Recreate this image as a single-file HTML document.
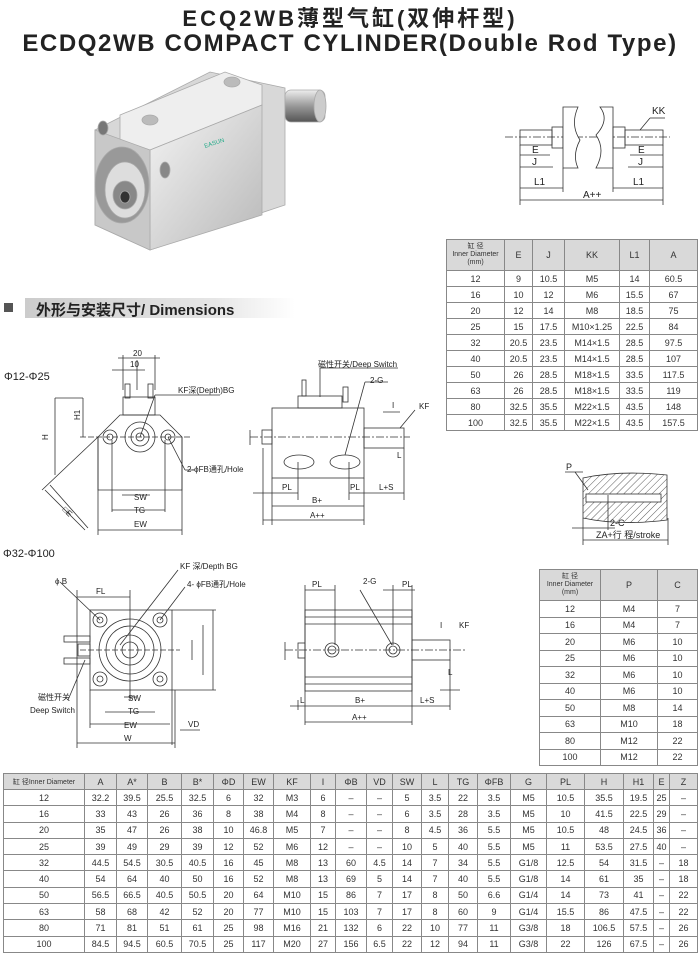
<!DOCTYPE html>
<html><head><meta charset="utf-8"><style>
body{margin:0;width:700px;height:956px;background:#fff;position:relative;overflow:hidden;font-family:"Liberation Sans","Noto Sans CJK SC",sans-serif;color:#222}
.t{position:absolute;border-collapse:collapse;table-layout:fixed;font-size:9px;text-align:center;color:#333}
.t td{border:1px solid #888;padding:0;overflow:hidden;white-space:nowrap}
.t tr.h td{background:#d9d9d9}
.hd{font-size:7px;line-height:8px}
svg text{font-family:"Liberation Sans","Noto Sans CJK SC",sans-serif}
</style></head><body>
<div style="position:absolute;left:0;top:1px;width:700px;text-align:center;font-weight:bold;font-size:22px;letter-spacing:3px">ECQ2WB薄型气缸(双伸杆型)</div>
<div style="position:absolute;left:0;top:30px;width:700px;text-align:center;font-weight:bold;font-size:24px;letter-spacing:1.6px">ECDQ2WB COMPACT CYLINDER(Double Rod Type)</div>
<div style="position:absolute;left:4px;top:303px;width:9px;height:9px;background:#555"></div>
<div style="position:absolute;left:25px;top:298px;width:270px;height:20px;background:linear-gradient(90deg,#ccc,#e6e6e6 70%,#fff)"></div>
<div style="position:absolute;left:36px;top:299px;font-weight:bold;font-size:15px">外形与安装尺寸/ Dimensions</div>

<svg width="700" height="956" style="position:absolute;left:0;top:0" fill="none" stroke="#333" stroke-width="0.8" font-size="8">
<defs>
<linearGradient id="g1" x1="0" y1="0" x2="1" y2="1"><stop offset="0" stop-color="#f4f4f4"/><stop offset="1" stop-color="#b8b8b8"/></linearGradient>
<linearGradient id="g2" x1="0" y1="0" x2="0" y2="1"><stop offset="0" stop-color="#eee"/><stop offset=".5" stop-color="#999"/><stop offset="1" stop-color="#555"/></linearGradient>
<pattern id="hat" width="5" height="5" patternUnits="userSpaceOnUse" patternTransform="rotate(45)"><line x1="0" y1="0" x2="0" y2="5" stroke="#333" stroke-width="0.8"/></pattern>
</defs>
<g stroke="#aaa">
<polygon points="95,130 210,72 285,88 285,205 150,250 95,225" fill="#d8d8d8"/>
<polygon points="120,115 225,72 262,85 262,105 150,150 120,140" fill="#eee"/>
<polygon points="150,150 262,105 262,215 150,250" fill="url(#g1)"/>
<polygon points="95,130 150,150 150,250 95,225" fill="#c8c8c8"/>
<rect x="285" y="90" width="40" height="32" rx="6" fill="url(#g2)"/>
<ellipse cx="320" cy="106" rx="6" ry="16" fill="#ccc"/>
<ellipse cx="122" cy="185" rx="27" ry="38" fill="#999"/>
<ellipse cx="125" cy="190" rx="20" ry="28" fill="#ddd"/>
<ellipse cx="125" cy="195" rx="12" ry="14" fill="#888"/>
<ellipse cx="125" cy="197" rx="5" ry="6" fill="#333"/>
<ellipse cx="150" cy="120" rx="8" ry="5" fill="#bbb"/><ellipse cx="232" cy="82" rx="8" ry="5" fill="#bbb"/>
<ellipse cx="103" cy="128" rx="5" ry="7" fill="#777"/><ellipse cx="165" cy="170" rx="5" ry="8" fill="#888"/>
</g>
<text x="205" y="148" fill="#2a8" stroke="none" font-size="6" transform="rotate(-18 205 148)">EASUN</text>

<line x1="505" y1="137" x2="670" y2="137" stroke-dasharray="8 2 2 2"/>
<rect x="520" y="130" width="32" height="15"/><rect x="552" y="127" width="11" height="21"/>
<path d="M563 107 L578 107 Q570 125 580 140 Q572 155 578 168 L563 168 Z" fill="#fff"/>
<path d="M600 107 L613 107 L613 168 L596 168 Q606 150 596 135 Q610 120 600 107Z" fill="#fff"/>
<rect x="613" y="127" width="12" height="21"/><rect x="625" y="130" width="38" height="15"/>
<line x1="520" y1="145" x2="520" y2="205"/><line x1="663" y1="145" x2="663" y2="205"/><line x1="563" y1="168" x2="563" y2="192"/><line x1="613" y1="168" x2="613" y2="192"/>
<line x1="520" y1="155" x2="550" y2="155"/><line x1="520" y1="167" x2="553" y2="167"/><line x1="520" y1="188" x2="563" y2="188"/>
<line x1="630" y1="155" x2="663" y2="155"/><line x1="628" y1="167" x2="663" y2="167"/><line x1="613" y1="188" x2="663" y2="188"/>
<line x1="520" y1="200" x2="663" y2="200"/><line x1="650" y1="118" x2="640" y2="130"/><line x1="650" y1="118" x2="665" y2="118"/>
<g fill="#222" stroke="none" font-size="10"><text x="532" y="153">E</text><text x="532" y="165">J</text><text x="534" y="185">L1</text><text x="638" y="153">E</text><text x="638" y="165">J</text><text x="633" y="185">L1</text><text x="583" y="198">A++</text><text x="652" y="114">KK</text></g>

<text x="4" y="380" fill="#222" stroke="none" font-size="11">Φ12-Φ25</text>
<polygon points="120,415 160,415 182,437 182,490 98,490 98,437" fill="#fff"/>
<rect x="123" y="397" width="32" height="18"/><rect x="125" y="384" width="5" height="14"/><rect x="148" y="384" width="5" height="14"/>
<circle cx="110" cy="437" r="7"/><circle cx="110" cy="437" r="3"/><circle cx="140" cy="437" r="15"/><circle cx="140" cy="437" r="9"/><circle cx="140" cy="437" r="4"/><circle cx="168" cy="437" r="7"/><circle cx="168" cy="437" r="3"/>
<line x1="80" y1="437" x2="190" y2="437" stroke-dasharray="6 2"/>
<line x1="55" y1="398" x2="55" y2="475"/><line x1="83" y1="398" x2="55" y2="398"/><line x1="83" y1="437" x2="83" y2="398"/>
<line x1="123" y1="355" x2="123" y2="390"/><line x1="155" y1="355" x2="155" y2="390"/><line x1="137" y1="360" x2="137" y2="390"/><line x1="118" y1="358" x2="160" y2="358"/><line x1="112" y1="370" x2="145" y2="370"/>
<line x1="45" y1="490" x2="85" y2="530"/><line x1="98" y1="437" x2="42" y2="490"/><line x1="50" y1="485" x2="88" y2="528"/>
<line x1="122" y1="495" x2="150" y2="495"/><line x1="112" y1="510" x2="165" y2="510"/><line x1="98" y1="530" x2="182" y2="530"/>
<line x1="98" y1="437" x2="98" y2="535"/><line x1="182" y1="437" x2="182" y2="535"/><line x1="112" y1="440" x2="112" y2="512"/><line x1="165" y1="440" x2="165" y2="512"/>
<line x1="140" y1="437" x2="155" y2="395"/><line x1="155" y1="395" x2="220" y2="395"/><line x1="168" y1="437" x2="185" y2="470"/><line x1="185" y1="470" x2="195" y2="470"/>
<g fill="#222" stroke="none" font-size="8"><text x="133" y="356">20</text><text x="130" y="367">10</text><text x="178" y="393">KF深(Depth)BG</text><text x="187" y="472">2-ϕFB通孔/Hole</text><text x="134" y="500">SW</text><text x="134" y="513">TG</text><text x="134" y="527">EW</text><text x="48" y="440" transform="rotate(-90 48 440)">H</text><text x="80" y="420" transform="rotate(-90 80 420)">H1</text><text x="62" y="510" transform="rotate(45 62 510)">□E</text></g>

<rect x="272" y="408" width="92" height="70" fill="#fff"/><rect x="298" y="396" width="44" height="12"/><rect x="302" y="380" width="4" height="16"/><rect x="343" y="387" width="5" height="15"/>
<rect x="262" y="430" width="10" height="14"/><rect x="364" y="428" width="40" height="20"/>
<line x1="250" y1="437" x2="410" y2="437" stroke-dasharray="8 2 2 2"/>
<ellipse cx="299" cy="462" rx="15" ry="7"/><ellipse cx="345" cy="462" rx="15" ry="7"/>
<line x1="320" y1="397" x2="320" y2="368"/><line x1="320" y1="368" x2="398" y2="368"/><line x1="345" y1="455" x2="365" y2="382"/><line x1="365" y1="382" x2="388" y2="382"/>
<line x1="272" y1="478" x2="272" y2="525"/><line x1="364" y1="478" x2="364" y2="525"/><line x1="263" y1="448" x2="263" y2="525"/><line x1="298" y1="462" x2="298" y2="500"/><line x1="349" y1="462" x2="349" y2="500"/><line x1="404" y1="448" x2="404" y2="500"/>
<line x1="253" y1="493" x2="298" y2="493"/><line x1="349" y1="493" x2="404" y2="493"/><line x1="272" y1="506" x2="364" y2="506"/><line x1="263" y1="520" x2="364" y2="520"/>
<line x1="250" y1="430" x2="250" y2="445"/><line x1="383" y1="412" x2="400" y2="412"/><line x1="400" y1="428" x2="415" y2="410"/>
<g fill="#222" stroke="none" font-size="8"><text x="318" y="367">磁性开关/Deep Switch</text><text x="370" y="383">2-G</text><text x="419" y="409">KF</text><text x="392" y="408">I</text><text x="397" y="458">L</text><text x="282" y="490">PL</text><text x="350" y="490">PL</text><text x="379" y="490">L+S</text><text x="312" y="503">B+</text><text x="310" y="518">A++</text></g>

<path d="M583 478 Q620 470 667 475 L667 520 Q620 526 583 518 Z" fill="url(#hat)"/>
<rect x="586" y="494" width="75" height="8" fill="#fff"/>
<line x1="565" y1="472" x2="583" y2="472"/><line x1="575" y1="472" x2="588" y2="490"/>
<line x1="583" y1="518" x2="583" y2="545"/><line x1="668" y1="518" x2="668" y2="545"/><line x1="608" y1="495" x2="608" y2="530"/>
<line x1="572" y1="528" x2="615" y2="528"/><line x1="583" y1="540" x2="668" y2="540"/>
<g fill="#222" stroke="none" font-size="9"><text x="566" y="470">P</text><text x="610" y="526">2-C</text><text x="596" y="538">ZA+行 程/stroke</text></g>

<text x="3" y="557" fill="#222" stroke="none" font-size="11">Φ32-Φ100</text>
<rect x="90" y="610" width="82" height="80" fill="#fff"/>
<rect x="64" y="636" width="26" height="6"/><rect x="64" y="658" width="26" height="6"/><rect x="78" y="644" width="12" height="12"/>
<circle cx="130" cy="650" r="31"/><circle cx="130" cy="650" r="24"/><circle cx="130" cy="650" r="15"/><circle cx="130" cy="650" r="8"/>
<circle cx="100" cy="620" r="7"/><circle cx="160" cy="620" r="7"/><circle cx="100" cy="679" r="7"/><circle cx="160" cy="679" r="7"/>
<circle cx="100" cy="620" r="3"/><circle cx="160" cy="620" r="3"/><circle cx="100" cy="679" r="3"/><circle cx="160" cy="679" r="3"/>
<line x1="80" y1="650" x2="180" y2="650" stroke-dasharray="6 2"/>
<line x1="77" y1="597" x2="130" y2="597"/><line x1="77" y1="590" x2="77" y2="748"/><line x1="130" y1="590" x2="130" y2="700"/>
<line x1="124" y1="697" x2="136" y2="697"/><line x1="105" y1="712" x2="155" y2="712"/><line x1="90" y1="724" x2="170" y2="724"/><line x1="77" y1="743" x2="175" y2="743"/><line x1="180" y1="730" x2="200" y2="730"/>
<line x1="90" y1="690" x2="90" y2="728"/><line x1="172" y1="690" x2="172" y2="745"/><line x1="175" y1="690" x2="175" y2="748"/>
<line x1="172" y1="610" x2="216" y2="610"/><line x1="172" y1="690" x2="216" y2="690"/><line x1="213" y1="610" x2="213" y2="690"/><line x1="203" y1="625" x2="203" y2="675"/><line x1="192" y1="640" x2="192" y2="660"/>
<line x1="60" y1="582" x2="100" y2="620"/><line x1="120" y1="645" x2="178" y2="570"/><line x1="160" y1="620" x2="185" y2="587"/><line x1="85" y1="660" x2="68" y2="700"/>
<g fill="#222" stroke="none" font-size="8"><text x="55" y="584">ϕ B</text><text x="96" y="594">FL</text><text x="180" y="569">KF 深/Depth BG</text><text x="187" y="587">4- ϕFB通孔/Hole</text><text x="128" y="701">SW</text><text x="128" y="714">TG</text><text x="124" y="728">EW</text><text x="124" y="741">W</text><text x="188" y="727">VD</text><text x="38" y="700">磁性开关</text><text x="30" y="713">Deep Switch</text></g>

<rect x="305" y="610" width="107" height="81" fill="#fff"/>
<line x1="305" y1="617" x2="412" y2="617"/><line x1="305" y1="624" x2="412" y2="624"/><line x1="305" y1="677" x2="412" y2="677"/><line x1="305" y1="684" x2="412" y2="684"/>
<rect x="298" y="643" width="7" height="15"/><rect x="412" y="640" width="38" height="20"/>
<line x1="285" y1="650" x2="465" y2="650" stroke-dasharray="8 2 2 2"/>
<circle cx="332" cy="650" r="7"/><circle cx="332" cy="650" r="4"/><circle cx="393" cy="650" r="7"/><circle cx="393" cy="650" r="4"/>
<line x1="305" y1="590" x2="335" y2="590"/><line x1="383" y1="590" x2="415" y2="590"/><line x1="335" y1="585" x2="335" y2="645"/><line x1="393" y1="585" x2="393" y2="645"/><line x1="305" y1="585" x2="305" y2="725"/><line x1="412" y1="585" x2="412" y2="725"/>
<line x1="360" y1="590" x2="392" y2="645"/><line x1="290" y1="706" x2="450" y2="706"/><line x1="305" y1="722" x2="412" y2="722"/><line x1="450" y1="660" x2="450" y2="710"/><line x1="440" y1="690" x2="460" y2="690"/><line x1="285" y1="642" x2="285" y2="660"/><line x1="298" y1="700" x2="298" y2="710"/>
<g fill="#222" stroke="none" font-size="8"><text x="312" y="587">PL</text><text x="363" y="584">2-G</text><text x="402" y="587">PL</text><text x="459" y="628">KF</text><text x="440" y="628">I</text><text x="448" y="675">L</text><text x="355" y="703">B+</text><text x="352" y="720">A++</text><text x="420" y="703">L+S</text><text x="300" y="703">L</text></g>
</svg>

<table class="t" style="left:446px;top:239px;width:251px">
<colgroup><col style="width:58px"><col style="width:28px"><col style="width:32px"><col style="width:55px"><col style="width:30px"><col style="width:48px"></colgroup>
<tr class="h" style="height:31px"><td class="hd">缸 径<br>Inner Diameter<br>(mm)</td><td>E</td><td>J</td><td>KK</td><td>L1</td><td>A</td></tr>
<tr style="height:16px"><td>12</td><td>9</td><td>10.5</td><td>M5</td><td>14</td><td>60.5</td></tr>
<tr style="height:16px"><td>16</td><td>10</td><td>12</td><td>M6</td><td>15.5</td><td>67</td></tr>
<tr style="height:16px"><td>20</td><td>12</td><td>14</td><td>M8</td><td>18.5</td><td>75</td></tr>
<tr style="height:16px"><td>25</td><td>15</td><td>17.5</td><td>M10×1.25</td><td>22.5</td><td>84</td></tr>
<tr style="height:16px"><td>32</td><td>20.5</td><td>23.5</td><td>M14×1.5</td><td>28.5</td><td>97.5</td></tr>
<tr style="height:16px"><td>40</td><td>20.5</td><td>23.5</td><td>M14×1.5</td><td>28.5</td><td>107</td></tr>
<tr style="height:16px"><td>50</td><td>26</td><td>28.5</td><td>M18×1.5</td><td>33.5</td><td>117.5</td></tr>
<tr style="height:16px"><td>63</td><td>26</td><td>28.5</td><td>M18×1.5</td><td>33.5</td><td>119</td></tr>
<tr style="height:16px"><td>80</td><td>32.5</td><td>35.5</td><td>M22×1.5</td><td>43.5</td><td>148</td></tr>
<tr style="height:16px"><td>100</td><td>32.5</td><td>35.5</td><td>M22×1.5</td><td>43.5</td><td>157.5</td></tr>
</table>

<table class="t" style="left:539px;top:569px;width:158px">
<colgroup><col style="width:61px"><col style="width:57px"><col style="width:40px"></colgroup>
<tr class="h" style="height:31px"><td class="hd">缸 径<br>Inner Diameter<br>(mm)</td><td>P</td><td>C</td></tr>
<tr style="height:16.5px"><td>12</td><td>M4</td><td>7</td></tr>
<tr style="height:16.5px"><td>16</td><td>M4</td><td>7</td></tr>
<tr style="height:16.5px"><td>20</td><td>M6</td><td>10</td></tr>
<tr style="height:16.5px"><td>25</td><td>M6</td><td>10</td></tr>
<tr style="height:16.5px"><td>32</td><td>M6</td><td>10</td></tr>
<tr style="height:16.5px"><td>40</td><td>M6</td><td>10</td></tr>
<tr style="height:16.5px"><td>50</td><td>M8</td><td>14</td></tr>
<tr style="height:16.5px"><td>63</td><td>M10</td><td>18</td></tr>
<tr style="height:16.5px"><td>80</td><td>M12</td><td>22</td></tr>
<tr style="height:16.5px"><td>100</td><td>M12</td><td>22</td></tr>
</table>

<table class="t" style="left:3px;top:773px;width:694px">
<colgroup><col style="width:81px"><col style="width:32px"><col style="width:31px"><col style="width:34px"><col style="width:32px"><col style="width:30px"><col style="width:30px"><col style="width:37px"><col style="width:25px"><col style="width:31px"><col style="width:26px"><col style="width:29px"><col style="width:27px"><col style="width:29px"><col style="width:33px"><col style="width:36px"><col style="width:38px"><col style="width:39px"><col style="width:30px"><col style="width:16px"><col style="width:28px"></colgroup>
<tr class="h" style="height:16px"><td style="font-size:7px">缸 径Inner Diameter</td><td>A</td><td>A*</td><td>B</td><td>B*</td><td>ΦD</td><td>EW</td><td>KF</td><td>I</td><td>ΦB</td><td>VD</td><td>SW</td><td>L</td><td>TG</td><td>ΦFB</td><td>G</td><td>PL</td><td>H</td><td>H1</td><td>E</td><td>Z</td></tr>
<tr style="height:16.3px"><td>12</td><td>32.2</td><td>39.5</td><td>25.5</td><td>32.5</td><td>6</td><td>32</td><td>M3</td><td>6</td><td>–</td><td>–</td><td>5</td><td>3.5</td><td>22</td><td>3.5</td><td>M5</td><td>10.5</td><td>35.5</td><td>19.5</td><td>25</td><td>–</td></tr>
<tr style="height:16.3px"><td>16</td><td>33</td><td>43</td><td>26</td><td>36</td><td>8</td><td>38</td><td>M4</td><td>8</td><td>–</td><td>–</td><td>6</td><td>3.5</td><td>28</td><td>3.5</td><td>M5</td><td>10</td><td>41.5</td><td>22.5</td><td>29</td><td>–</td></tr>
<tr style="height:16.3px"><td>20</td><td>35</td><td>47</td><td>26</td><td>38</td><td>10</td><td>46.8</td><td>M5</td><td>7</td><td>–</td><td>–</td><td>8</td><td>4.5</td><td>36</td><td>5.5</td><td>M5</td><td>10.5</td><td>48</td><td>24.5</td><td>36</td><td>–</td></tr>
<tr style="height:16.3px"><td>25</td><td>39</td><td>49</td><td>29</td><td>39</td><td>12</td><td>52</td><td>M6</td><td>12</td><td>–</td><td>–</td><td>10</td><td>5</td><td>40</td><td>5.5</td><td>M5</td><td>11</td><td>53.5</td><td>27.5</td><td>40</td><td>–</td></tr>
<tr style="height:16.3px"><td>32</td><td>44.5</td><td>54.5</td><td>30.5</td><td>40.5</td><td>16</td><td>45</td><td>M8</td><td>13</td><td>60</td><td>4.5</td><td>14</td><td>7</td><td>34</td><td>5.5</td><td>G1/8</td><td>12.5</td><td>54</td><td>31.5</td><td>–</td><td>18</td></tr>
<tr style="height:16.3px"><td>40</td><td>54</td><td>64</td><td>40</td><td>50</td><td>16</td><td>52</td><td>M8</td><td>13</td><td>69</td><td>5</td><td>14</td><td>7</td><td>40</td><td>5.5</td><td>G1/8</td><td>14</td><td>61</td><td>35</td><td>–</td><td>18</td></tr>
<tr style="height:16.3px"><td>50</td><td>56.5</td><td>66.5</td><td>40.5</td><td>50.5</td><td>20</td><td>64</td><td>M10</td><td>15</td><td>86</td><td>7</td><td>17</td><td>8</td><td>50</td><td>6.6</td><td>G1/4</td><td>14</td><td>73</td><td>41</td><td>–</td><td>22</td></tr>
<tr style="height:16.3px"><td>63</td><td>58</td><td>68</td><td>42</td><td>52</td><td>20</td><td>77</td><td>M10</td><td>15</td><td>103</td><td>7</td><td>17</td><td>8</td><td>60</td><td>9</td><td>G1/4</td><td>15.5</td><td>86</td><td>47.5</td><td>–</td><td>22</td></tr>
<tr style="height:16.3px"><td>80</td><td>71</td><td>81</td><td>51</td><td>61</td><td>25</td><td>98</td><td>M16</td><td>21</td><td>132</td><td>6</td><td>22</td><td>10</td><td>77</td><td>11</td><td>G3/8</td><td>18</td><td>106.5</td><td>57.5</td><td>–</td><td>26</td></tr>
<tr style="height:16.3px"><td>100</td><td>84.5</td><td>94.5</td><td>60.5</td><td>70.5</td><td>25</td><td>117</td><td>M20</td><td>27</td><td>156</td><td>6.5</td><td>22</td><td>12</td><td>94</td><td>11</td><td>G3/8</td><td>22</td><td>126</td><td>67.5</td><td>–</td><td>26</td></tr>
</table>
</body></html>
